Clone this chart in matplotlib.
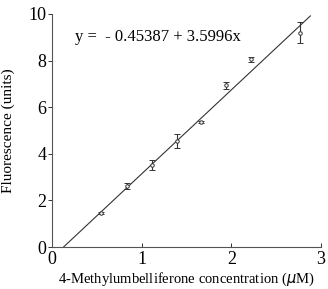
import matplotlib
matplotlib.use("Agg")
import matplotlib.pyplot as plt
import numpy as np

conc = [0.55, 0.83, 1.11, 1.39, 1.66, 1.94, 2.22, 2.77]
fluor = [1.45, 2.62, 3.52, 4.55, 5.35, 6.95, 8.05, 9.2]
err = [0.05, 0.12, 0.22, 0.32, 0.05, 0.15, 0.12, 0.45]
intercept = -0.45387
slope = 3.5996
xticks = [0, 1, 2, 3]
yticks = [0, 2, 4, 6, 8, 10]

plt.rcParams['font.family'] = ['Liberation Serif', 'DejaVu Serif']
fig = plt.figure(figsize=(3.28, 2.89), dpi=100)
ax = fig.add_axes([0.159, 0.145, 0.820, 0.807])

ax.errorbar(conc, fluor, yerr=err, fmt='o', ms=2.5, mfc='white', mec='#333333',
            mew=0.7, ecolor='#333333', elinewidth=0.8, capsize=2, capthick=0.7)
xl = np.array([-intercept / slope, 2.88])
ax.plot(xl, intercept + slope * xl, color='#333333', lw=0.8)

ax.set_xlim(0, 3)
ax.set_ylim(0, 10)
ax.set_xticks(xticks)
ax.set_yticks(yticks)
for s in ['top', 'right']:
    ax.spines[s].set_visible(False)
for s in ['left', 'bottom']:
    ax.spines[s].set_linewidth(0.8)
    ax.spines[s].set_color('#555555')
ax.tick_params(axis='y', direction='out', length=3, width=0.7, labelsize=13, pad=1, colors='#333333', labelcolor='black')
ax.tick_params(axis='x', direction='in', length=3, width=0.7, labelsize=13, pad=3, colors='#333333', labelcolor='black')
ax.set_xlabel('4-Methylumbelliferone concentration ($\\mu$M)', fontsize=10.5, labelpad=2)
ax.set_ylabel('Fluorescence (units)', fontsize=11, labelpad=10)
ax.text(0.25, 8.85, 'y =  - 0.45387 + 3.5996x', fontsize=12)
fig.savefig('out.png', dpi=100)
